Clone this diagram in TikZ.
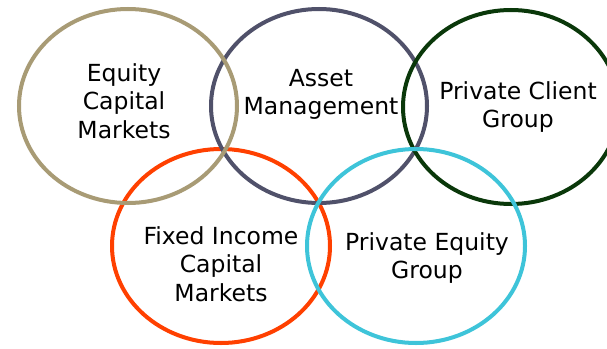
\documentclass[tikz,border=0pt]{standalone}
\usepackage{fontspec}
\newfontfamily\labelfont{DejaVu Sans}
\definecolor{ringtan}{HTML}{A89B75}
\definecolor{ringgray}{HTML}{50516A}
\definecolor{ringgreen}{HTML}{0A380A}
\definecolor{ringorange}{HTML}{FF4000}
\definecolor{ringcyan}{HTML}{3EC4D9}
% invisible rule fixing the height of a label's first line
\newcommand\labelstrut{\rule{0pt}{18pt}}
\begin{document}
\begin{tikzpicture}[x=1pt,y=-1pt,
  ring/.style={line width=4pt},
  lbl/.style={anchor=north, inner sep=0pt, align=center, text=black,
    font=\labelfont\fontsize{23.5pt}{28.5pt}\selectfont}]
\useasboundingbox (0,0) rectangle (607,348);
\fill[white] (0,0) rectangle (607,348);

% the five rings
\draw[ring, ringorange] (221,246) ellipse [x radius=109, y radius=97];
\draw[ring, ringgray]   (319,106) ellipse [x radius=108, y radius=97];
\draw[ring, ringtan]    (128,106) ellipse [x radius=109, y radius=97];
\draw[ring, ringgreen]  (511,107) ellipse [x radius=108, y radius=97];
\draw[ring, ringcyan]   (416,246) ellipse [x radius=109, y radius=97];

% labels
\node[lbl] (ecm) at (124,63) {\labelstrut Equity\\Capital\\Markets};
\node[lbl] (am)  at (321,68) {\labelstrut Asset\\Management};
\node[lbl] (pcg) at (518,81) {\labelstrut Private Client\\Group};
\node[lbl] (fic) at (221,226) {\labelstrut Fixed Income\\Capital\\Markets};
\node[lbl] (peg) at (427,232) {\labelstrut Private Equity\\Group};
\end{tikzpicture}
\end{document}
